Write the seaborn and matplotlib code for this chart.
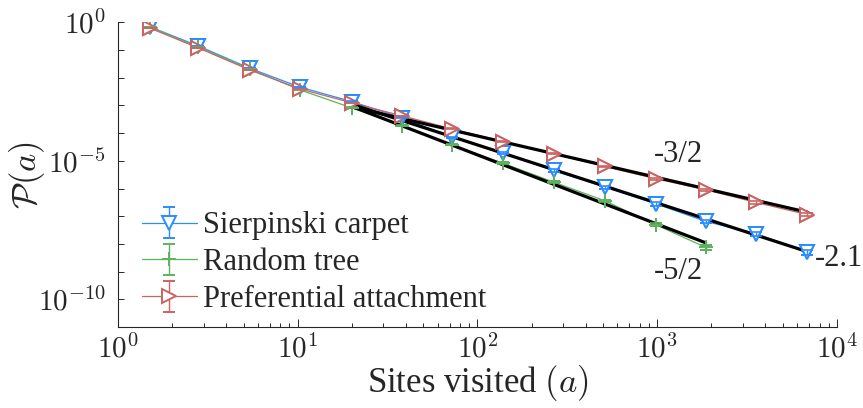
import numpy as np
import pandas as pd
import matplotlib
matplotlib.use("Agg")
import matplotlib.pyplot as plt
import matplotlib.ticker as mticker
import seaborn as sns

# ---- data -------------------------------------------------------------
sites = [1.5, 2.8, 5.4, 10.3, 20, 38, 72, 138, 265, 510, 980, 1860, 3530, 6850]

p_carpet = [0.693, 0.140, 0.0220, 4.55e-3, 1.38e-3, 3.56e-4, 7.18e-5,
            1.90e-5, 4.49e-6, 1.13e-6, 2.83e-7, 6.52e-8, 2.35e-8, 4.98e-9]
p_tree = [0.678, 0.129, 0.0208, 3.63e-3, 8.17e-4, 1.83e-4, 3.78e-5,
          8.30e-6, 1.71e-6, 3.63e-7, 4.95e-8, 7.53e-9]
p_pref = [0.624, 0.1186, 0.0191, 3.94e-3, 1.24e-3, 4.20e-4, 1.43e-4,
          4.98e-5, 1.80e-5, 6.25e-6, 2.25e-6, 9.06e-7, 3.16e-7, 1.14e-7]

# relative standard errors
rel_err_carpet = [0.01, 0.01, 0.01, 0.01, 0.02, 0.03, 0.05, 0.08, 0.10,
                  0.12, 0.14, 0.16, 0.18, 0.20]
rel_err_tree = [0.01, 0.01, 0.01, 0.02, 0.03, 0.04, 0.05, 0.06, 0.08,
                0.10, 0.13, 0.20]
rel_err_pref = [0.01, 0.01, 0.01, 0.01, 0.02, 0.02, 0.03, 0.04, 0.05,
                0.06, 0.07, 0.08, 0.09, 0.10]

series_names = ["Sierpinski carpet", "Random tree", "Preferential attachment"]
fit_slopes = [-2.1, -2.5, -1.5]
fit_labels = ["-2.1", "-5/2", "-3/2"]
fit_start = 4  # power-law fits start at a = 20

colors = ["#2a8cff", "#5fb35f", "#cc6262"]
markers = ["v", "+", ">"]

# ---- style ------------------------------------------------------------
sns.set_theme(style="ticks")
plt.rcParams["font.family"] = ["Liberation Serif", "DejaVu Serif"]
plt.rcParams["mathtext.fontset"] = "cm"
plt.rcParams["axes.linewidth"] = 0.8
plt.rcParams["axes.edgecolor"] = "#262626"

fig = plt.figure(figsize=(8.63, 4.08), dpi=100)
ax = fig.add_axes([0.1367, 0.1985, 0.8331, 0.7468])
ax.set_xscale("log")
ax.set_yscale("log")

ys = [p_carpet, p_tree, p_pref]
errs = [rel_err_carpet, rel_err_tree, rel_err_pref]
handles = []
for name, y, re, c, m in zip(series_names, ys, errs, colors, markers):
    x = np.array(sites[:len(y)])
    y = np.array(y)
    yerr = y * np.array(re)
    h = ax.errorbar(x, y, yerr=yerr, color=c, lw=0.9, marker=m, ms=10,
                    mfc="white", mec=c, mew=1.4, capsize=4, capthick=1.2,
                    elinewidth=1.0, zorder=2, label=name)
    handles.append(h)

# power-law fits (fixed exponents, intercept from the fitted range)
fit_rows = []
for name, y, k in zip(series_names, ys, fit_slopes):
    lx = np.log10(np.array(sites[fit_start:len(y)]))
    ly = np.log10(np.array(y[fit_start:]))
    b = np.mean(ly - k * lx)
    for xv in (lx[0], lx[-1]):
        fit_rows.append({"series": name, "a": 10 ** xv, "p": 10 ** (b + k * xv)})
fits = pd.DataFrame(fit_rows)
sns.lineplot(data=fits, x="a", y="p", units="series", estimator=None,
             color="black", lw=2.3, ax=ax, zorder=3, legend=False)

# markers and caps above the fit lines
for y, re, c, m in zip(ys, errs, colors, markers):
    x = np.array(sites[:len(y)])
    y = np.array(y)
    ax.plot(x, y, ls="none", marker=m, ms=10, mfc="white", mec=c, mew=1.4,
            zorder=4)
    ax.errorbar(x, y, yerr=y * np.array(re), fmt="none", ecolor=c,
                capsize=4, capthick=1.2, elinewidth=1.0, zorder=5)

# exponent labels
ax.text(1310, 1.7e-5, fit_labels[2], fontsize=22, ha="center", va="center")
ax.text(1310, 1.0e-9, fit_labels[1], fontsize=22, ha="center", va="center")
ax.text(10300, 2.9e-9, fit_labels[0], fontsize=22, ha="center", va="center",
        clip_on=False)

# ---- axes -------------------------------------------------------------
ax.set_xlim(1, 1e4)
ax.set_ylim(1e-11, 1)
ax.xaxis.set_major_locator(mticker.LogLocator(base=10, numticks=10))
ax.xaxis.set_minor_locator(mticker.LogLocator(base=10, subs=np.arange(2, 10),
                                              numticks=20))
ax.xaxis.set_major_formatter(mticker.FuncFormatter(
    lambda v, _: r"$10^{%d}$" % int(round(np.log10(v)))))
ax.xaxis.set_minor_formatter(mticker.NullFormatter())
ax.yaxis.set_major_locator(mticker.FixedLocator([1e-10, 1e-5, 1e0]))
ax.yaxis.set_minor_locator(mticker.FixedLocator([10.0 ** -k for k in range(0, 12)]))
ax.yaxis.set_major_formatter(mticker.FuncFormatter(
    lambda v, _: r"$10^{%d}$" % int(round(np.log10(v)))))
ax.yaxis.set_minor_formatter(mticker.NullFormatter())

ax.tick_params(axis="both", which="both", direction="in", width=0.7,
               color="#262626", labelsize=21)
ax.tick_params(axis="x", which="major", length=6, pad=5)
ax.tick_params(axis="x", which="minor", length=3)
ax.tick_params(axis="y", which="major", length=4.5, pad=9)
ax.tick_params(axis="y", which="minor", length=4)
sns.despine(ax=ax)

ax.set_xlabel(r"Sites visited $(a)$", fontsize=25, labelpad=0)
ax.set_ylabel(r"$\mathcal{P}(a)$", fontsize=25)
ax.yaxis.set_label_coords(-0.099, 0.5)

ax.legend(handles=handles, labels=series_names, loc="upper left",
          bbox_to_anchor=(0.0334, 0.38), frameon=False, fontsize=22,
          handlelength=1.8, handletextpad=0.2, labelspacing=0.26,
          borderpad=0, borderaxespad=0)

fig.savefig("out.png", dpi=100)
